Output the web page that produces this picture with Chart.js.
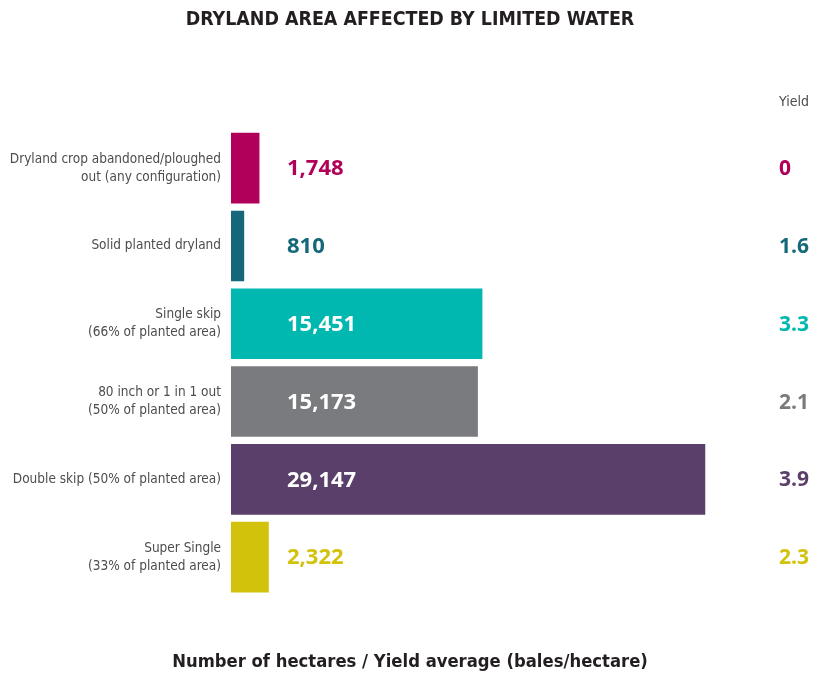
<!DOCTYPE html>
<html>
<head>
<meta charset="utf-8">
<script src="https://cdn.jsdelivr.net/npm/chart.js@4/dist/chart.umd.min.js"></script>
<style>
  html, body { margin: 0; padding: 0; background: #ffffff; }
  #wrap { width: 820px; height: 673px; }
</style>
</head>
<body>
<div id="wrap"><canvas id="c" width="820" height="673"></canvas></div>
<script>
// Dryland configurations
const categories = [
  ["Dryland crop abandoned/ploughed", "out (any configuration)"],
  "Solid planted dryland",
  ["Single skip", "(66% of planted area)"],
  ["80 inch or 1 in 1 out", "(50% of planted area)"],
  "Double skip (50% of planted area)",
  ["Super Single", "(33% of planted area)"]
];
// Hectares affected
const hectares = [1748, 810, 15451, 15173, 29147, 2322];
// Average yield (bales/hectare)
const yields = [0, 1.6, 3.3, 2.1, 3.9, 2.3];
const barColors = ["#b1005a", "#14687a", "#00b8b0", "#7a7b7f", "#5b3f6b", "#d3c20c"];

const titleText = "DRYLAND AREA AFFECTED BY LIMITED WATER";
const footText = "Number of hectares / Yield average (bales/hectare)";
const yieldHeader = "Yield";

const condensed = "'DejaVu Sans Condensed', 'Liberation Sans Narrow', sans-serif";
const boldFont = "'Open Sans', 'DejaVu Sans', sans-serif";

const fmt = v => v.toLocaleString('en-US');

// Draws the hectare values next to / inside each bar and the yield column
const valueLabels = {
  id: 'valueLabels',
  afterDatasetsDraw(chart) {
    const { ctx, chartArea } = chart;
    const meta = chart.getDatasetMeta(0);
    ctx.save();
    ctx.textBaseline = 'middle';
    ctx.textAlign = 'left';
    ctx.font = "bold 22px " + boldFont;
    const labelX = chartArea.left + 56;
    meta.data.forEach((bar, i) => {
      const txt = fmt(hectares[i]);
      const w = ctx.measureText(txt).width;
      const inside = bar.x > labelX + w + 10;
      ctx.fillStyle = inside ? '#ffffff' : barColors[i];
      ctx.fillText(txt, labelX, bar.y + 1);
    });
    // yield column
    const yX = chartArea.right - 41;
    ctx.font = "bold 21px " + boldFont;
    meta.data.forEach((bar, i) => {
      ctx.fillStyle = barColors[i];
      ctx.fillText(String(yields[i]), yX, bar.y + 1);
    });
    ctx.font = "14px " + condensed;
    ctx.fillStyle = '#4d4d4f';
    ctx.fillText(yieldHeader, yX, 102);
    ctx.restore();
  }
};

new Chart(document.getElementById('c'), {
  type: 'bar',
  data: {
    labels: categories,
    datasets: [{
      data: hectares,
      backgroundColor: barColors,
      borderWidth: 0,
      categoryPercentage: 1,
      barPercentage: 0.908
    }]
  },
  options: {
    indexAxis: 'y',
    responsive: false,
    animation: false,
    layout: { padding: 0 },
    scales: {
      x: {
        display: false,
        min: 0,
        max: 36200
      },
      y: {
        grid: { display: false, drawTicks: false },
        border: { display: false },
        ticks: {
          padding: 10,
          color: '#4d4d4f',
          font: { family: condensed, size: 13.5, lineHeight: 1.32 }
        },
        afterFit(scale) { scale.width = 231; }
      }
    },
    plugins: {
      legend: { display: false },
      tooltip: { enabled: false },
      title: {
        display: true,
        text: titleText,
        color: '#231f20',
        font: { family: condensed, size: 19.4, weight: 'bold', lineHeight: 1.2 },
        padding: { top: 8, bottom: 98 }
      },
      subtitle: {
        display: true,
        position: 'bottom',
        text: footText,
        color: '#231f20',
        font: { family: condensed, size: 18.3, weight: 'bold', lineHeight: 1.2 },
        padding: { top: 55, bottom: 0 }
      }
    }
  },
  plugins: [valueLabels]
});
</script>
</body>
</html>
